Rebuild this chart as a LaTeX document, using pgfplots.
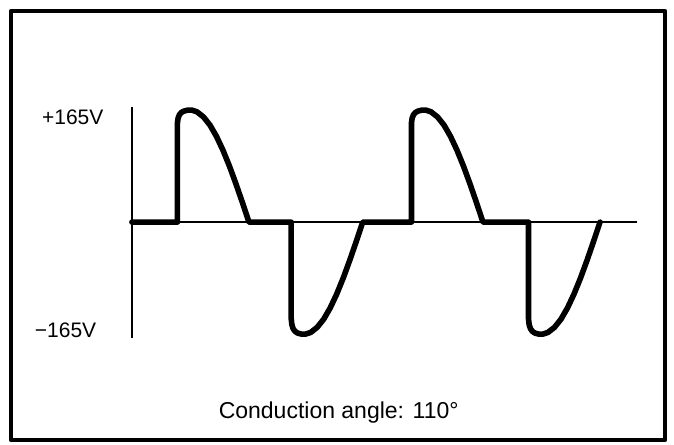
\documentclass[border=0pt]{standalone}
\usepackage{fontspec}
\setmainfont{Liberation Sans}
\usepackage{pgfplots}
\pgfplotsset{compat=1.18}

\begin{document}
\begin{tikzpicture}
\begin{axis}[
    scale only axis,
    width=327pt, height=214.5pt,
    xmin=-186, xmax=820,
    ymin=-321, ymax=311,
    xtick=\empty, ytick=\empty,
    axis line style={line width=2.2pt, line join=round},
    clip=false,
]
% bounding box with the white margin round the frame
\path ([xshift=-5.5pt,yshift=-2pt]rel axis cs:0,0) rectangle ([xshift=4.5pt,yshift=5.5pt]rel axis cs:1,1);

% voltage axis and zero line
\addplot[black, line width=1.2pt] coordinates {(0,-170) (0,170)};
\addplot[black, line width=1pt] coordinates {(0,0) (777,0)};

% phase controlled waveform, conduction angle 110 deg
\addplot[black, line width=2.8pt, line join=round, line cap=round] coordinates {
    (0,0) (70,0)
    (70,146) (71,153) (73,158) (76,161.5) (80,163.5) (86,165) (92,165) (100,162.5)
    (110,155) (120,143) (130,126.4) (140,106) (150,82.5) (160,56.4) (170,28.7) (175,14.4) (180,0)
    (245,0)
    (245,-142) (246,-151) (248,-157) (251,-161) (255,-163.5) (261,-165) (267,-165) (275,-162.5)
    (285,-155) (295,-143) (305,-126.4) (315,-106) (325,-82.5) (335,-56.4) (345,-28.7) (350,-14.4) (355,0)
    (430,0)
    (430,146) (431,153) (433,158) (436,161.5) (440,163.5) (446,165) (452,165) (460,162.5)
    (470,155) (480,143) (490,126.4) (500,106) (510,82.5) (520,56.4) (530,28.7) (535,14.4) (540,0)
    (610,0)
    (610,-142) (611,-151) (613,-157) (616,-161) (620,-163.5) (626,-165) (632,-165) (640,-162.5)
    (650,-155) (660,-143) (670,-126.4) (680,-106) (690,-82.5) (700,-56.4) (710,-28.7) (715,-14.4) (720,0)
};

\node[anchor=east, font=\fontsize{10.5}{12}\selectfont] at (axis cs:-33,155) {+165V};
\node[anchor=east, font=\fontsize{10.5}{12}\selectfont] at (axis cs:-44,-159) {−165V};
\node[font=\fontsize{11.5}{13}\selectfont] at (axis cs:318,-281) {Conduction angle: 110°};
\end{axis}
\end{tikzpicture}
\end{document}
